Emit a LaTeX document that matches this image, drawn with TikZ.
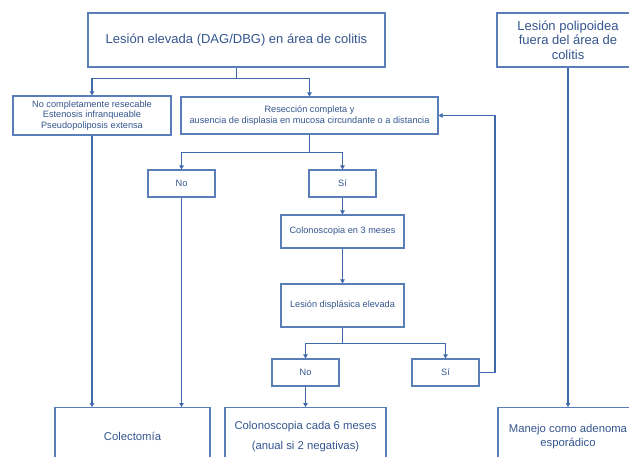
\documentclass[tikz,border=0pt]{standalone}
\usepackage{fontspec}
\setmainfont{Liberation Sans}
\usetikzlibrary{arrows.meta}
\definecolor{ln}{HTML}{3F69A8}
\definecolor{bx}{HTML}{5A7EB8}
\definecolor{tx}{HTML}{34558E}
\begin{document}
\begin{tikzpicture}[x=1pt,y=-1pt,
  box/.style={draw=bx,line width=1.2pt,inner sep=0pt,align=center,text=tx,font=\fontsize{9.2}{11}\selectfont},
  big/.style={box,font=\fontsize{13}{14.5}\selectfont},
  mid/.style={box,font=\fontsize{11.3}{20}\selectfont},
  arr/.style={draw=ln,line width=1.2pt,-{Triangle[length=4pt,width=4.5pt]}},
  ln/.style={draw=ln,line width=1.2pt}]
\useasboundingbox (0,0) rectangle (629,456);
\clip (0,0) rectangle (629,456);
\node[big,minimum width=297pt,minimum height=54pt] (main) at (236.5,40) {Lesión elevada (DAG/DBG) en área de colitis};
\node[big,minimum width=142pt,minimum height=54pt] (right) at (568,40) {Lesión polipoidea\\fuera del área de\\colitis};
\node[box,font=\fontsize{9.2}{10.2}\selectfont,minimum width=158pt,minimum height=39pt] (left) at (92,115.5) {No completamente resecable\\Estenosis infranqueable\\Pseudopoliposis extensa};
\node[box,minimum width=257pt,minimum height=37pt] (resec) at (309.5,115.5) {Resección completa y\\ausencia de displasia en mucosa circundante o a distancia};
\node[box,minimum width=67pt,minimum height=27pt] (no1) at (181.5,183.5) {No};
\node[box,minimum width=67pt,minimum height=27pt] (si1) at (342.5,183.5) {Sí};
\node[box,minimum width=123pt,minimum height=33pt] (col3) at (342.5,231.5) {Colonoscopia en 3 meses};
\node[box,minimum width=123pt,minimum height=43pt] (les) at (342.5,305.5) {Lesión displásica elevada};
\node[box,minimum width=67pt,minimum height=27pt] (no2) at (305.5,372.5) {No};
\node[box,minimum width=67pt,minimum height=27pt] (si2) at (445.5,372.5) {Sí};
\node[mid,minimum width=155pt,minimum height=58pt,anchor=north] (colect) at (132.5,407) {Colectomía};
\node[mid,minimum width=161pt,minimum height=58pt,anchor=north] (col6) at (305.5,407) {Colonoscopia cada 6 meses\\(anual si 2 negativas)};
\node[mid,font=\fontsize{11.3}{13.5}\selectfont,minimum width=140pt,minimum height=58pt,anchor=north] (manejo) at (568,407) {Manejo como adenoma\\esporádico};
\coordinate (fb) at (495,372.5);
% connectors
\draw[ln] (main.south) -- ++(0,11) coordinate (j1);
\draw[arr] (j1) -| (left.north);
\draw[arr] (j1) -| (resec.north);
\draw[ln] (resec.south) -- ++(0,18) coordinate (j2);
\draw[arr] (j2) -| (no1.north);
\draw[arr] (j2) -| (si1.north);
\draw[arr] (si1.south) -- (col3.north);
\draw[arr] (col3.south) -- (les.north);
\draw[ln] (les.south) -- ++(0,16) coordinate (j3);
\draw[arr] (j3) -| (no2.north);
\draw[arr] (j3) -| (si2.north);
\draw[arr] (si2.east) -- (fb) |- (resec.east);
\draw[arr] (no2.south) -- (col6.north);
\draw[arr] (left.south) -- (left.south |- colect.north);
\draw[arr] (no1.south) -- (no1.south |- colect.north);
\draw[arr] (right.south) -- (manejo.north);
\end{tikzpicture}
\end{document}
